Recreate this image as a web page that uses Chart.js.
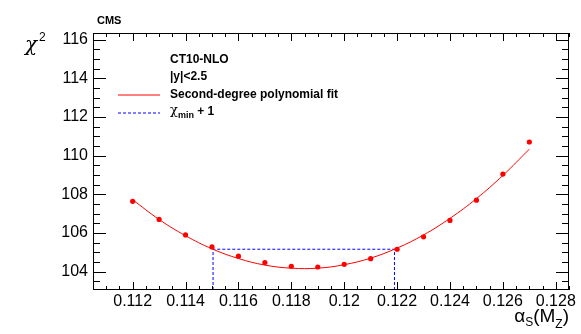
<!DOCTYPE html>
<html>
<head>
<meta charset="utf-8">
<script src="https://cdn.jsdelivr.net/npm/chart.js@4.4.1/dist/chart.umd.min.js"></script>
<style>
  body { margin: 0; background: #fff; }
  canvas { display: block; }
</style>
</head>
<body>
<canvas id="chi2Scan" width="581" height="334"></canvas>
<script>
  // chi2 scan values
  var alphaS = [0.112, 0.113, 0.114, 0.115, 0.116, 0.117, 0.118, 0.119,
                0.120, 0.121, 0.122, 0.123, 0.124, 0.125, 0.126, 0.127];
  var chi2Points = [107.64, 106.70, 105.90, 105.28, 104.80, 104.47, 104.28, 104.24,
                    104.38, 104.67, 105.16, 105.80, 106.65, 107.70, 109.05, 110.71];
  var fitCurve = [107.72, 106.70, 105.86, 105.18, 104.68, 104.34, 104.18, 104.18,
                  104.36, 104.70, 105.22, 105.90, 106.76, 107.78, 108.98, 110.34];
  var chi2MinPlusOne = 105.16;
  var alphaBand = [0.11504, 0.1219];

  var xTicks = [0.112, 0.114, 0.116, 0.118, 0.120, 0.122, 0.124, 0.126, 0.128];
  var xTickLabels = ['0.112', '0.114', '0.116', '0.118', '0.12', '0.122', '0.124', '0.126', '0.128'];
  var yTicks = [104, 106, 108, 110, 112, 114, 116];
  var xRange = [0.1105, 0.1285];
  var yRange = [103.05, 116.35];

  var FONT = '"Liberation Sans", Arial, Helvetica, sans-serif';
  var RED = '#ff0000';
  var BLUE = '#0000ff';

  function toXY(xs, ys) {
    return xs.map(function(x, i) { return { x: x, y: ys[i] }; });
  }

  // ROOT-style frame: box + inward ticks on all four sides, texts
  var rootFrame = {
    id: 'rootFrame',
    afterDraw: function(chart) {
      var c = chart.ctx;
      var a = chart.chartArea;
      var sx = chart.scales.x, sy = chart.scales.y;
      c.save();
      c.strokeStyle = '#000';
      c.lineWidth = 1;
      c.strokeRect(Math.round(a.left) + 0.5, Math.round(a.top) + 0.5,
                   Math.round(a.right - a.left) - 1, Math.round(a.bottom - a.top) - 1);

      // x ticks, major every 0.002, minor every 0.0005
      c.beginPath();
      for (var k = 0; ; k++) {
        var v = 0.110 + k * 0.0005;
        if (v > xRange[1] + 1e-9) break;
        if (v < xRange[0] - 1e-9) continue;
        var len = (k % 4) === 0 ? 8 : 4;
        var px = Math.round(sx.getPixelForValue(v)) + 0.5;
        c.moveTo(px, a.bottom); c.lineTo(px, a.bottom - len);
        c.moveTo(px, a.top); c.lineTo(px, a.top + len);
      }
      // y ticks, major every 2, minor every 0.5
      for (var j = 0; ; j++) {
        var w = 103 + j * 0.5;
        if (w > yRange[1] + 1e-9) break;
        if (w < yRange[0] - 1e-9) continue;
        var lenY = (j % 4) === 2 ? 13 : 7;
        var py = Math.round(sy.getPixelForValue(w)) + 0.5;
        c.moveTo(a.left, py); c.lineTo(a.left + lenY, py);
        c.moveTo(a.right, py); c.lineTo(a.right - lenY, py);
      }
      c.stroke();

      c.fillStyle = '#000';
      c.textBaseline = 'alphabetic';
      c.textAlign = 'left';

      // CMS label
      c.font = 'bold 11px ' + FONT;
      c.fillText('CMS', 97, 24);

      // y title
      c.font = 'italic 20px "DejaVu Serif", serif';
      c.fillText('\u03c7', 25, 51);
      c.font = '12px ' + FONT;
      c.fillText('2', 39, 41);

      // x title: alpha_S(M_Z), right aligned at the frame end
      var parts = [
        ['\u03b1', '19px ' + FONT, 0],
        ['S', '12px ' + FONT, 4],
        ['(M', '19px ' + FONT, 0],
        ['Z', '12px ' + FONT, 6],
        [')', '19px ' + FONT, 0]
      ];
      var total = 0;
      parts.forEach(function(p) { c.font = p[1]; total += c.measureText(p[0]).width; });
      var tx = a.right - total;
      parts.forEach(function(p) {
        c.font = p[1];
        c.fillText(p[0], tx, 322 + p[2]);
        tx += c.measureText(p[0]).width;
      });

      // legend
      c.font = 'bold 12px ' + FONT;
      c.textBaseline = 'middle';
      c.fillText('CT10-NLO', 170, 60);
      c.fillText('|y|<2.5', 170, 77);
      c.fillText('Second-degree polynomial fit', 170, 95);
      c.font = '13px "DejaVu Serif", serif';
      c.fillText('\u03c7', 170, 111);
      var cw = c.measureText('\u03c7').width;
      c.font = 'bold 9px ' + FONT;
      c.fillText('min', 170 + cw, 116);
      var mw = c.measureText('min').width;
      c.font = 'bold 12px ' + FONT;
      c.fillText(' + 1', 170 + cw + mw, 112);

      c.lineWidth = 1;
      c.setLineDash([]);
      c.strokeStyle = RED;
      c.beginPath(); c.moveTo(118, 95); c.lineTo(160, 95); c.stroke();
      c.strokeStyle = BLUE;
      c.setLineDash([3, 2]);
      c.beginPath(); c.moveTo(118, 113); c.lineTo(160, 113); c.stroke();
      c.restore();
    }
  };

  var chi2Chart = new Chart(document.getElementById('chi2Scan').getContext('2d'), {
    type: 'scatter',
    data: {
      datasets: [
        {
          label: 'chi2',
          data: toXY(alphaS, chi2Points),
          backgroundColor: RED,
          borderColor: RED,
          pointRadius: 2.6,
          pointHoverRadius: 2.6,
          borderWidth: 0,
          showLine: false,
          order: 0
        },
        {
          label: 'Second-degree polynomial fit',
          data: toXY(alphaS, fitCurve),
          borderColor: RED,
          borderWidth: 1,
          pointRadius: 0,
          showLine: true,
          tension: 0.4,
          order: 1
        },
        {
          label: 'chi2min + 1',
          data: [
            { x: alphaBand[0], y: yRange[0] },
            { x: alphaBand[0], y: chi2MinPlusOne },
            { x: alphaBand[1], y: chi2MinPlusOne },
            { x: alphaBand[1], y: yRange[0] }
          ],
          borderColor: BLUE,
          borderWidth: 1,
          borderDash: [3, 2],
          pointRadius: 0,
          showLine: true,
          tension: 0,
          order: 2
        }
      ]
    },
    options: {
      responsive: false,
      animation: false,
      devicePixelRatio: 1,
      layout: { padding: { left: 0, top: 33, right: 12, bottom: 0 } },
      plugins: {
        legend: { display: false },
        tooltip: { enabled: false },
        title: { display: false }
      },
      scales: {
        x: {
          type: 'linear',
          min: xRange[0],
          max: xRange[1],
          grid: { display: false, drawTicks: false },
          border: { display: false },
          afterBuildTicks: function(scale) {
            scale.ticks = xTicks.map(function(v) { return { value: v }; });
          },
          afterFit: function(scale) { scale.height = 44; },
          ticks: {
            padding: 2,
            color: '#000',
            font: { family: FONT, size: 16 },
            maxRotation: 0,
            autoSkip: false,
            callback: function(value, index) { return xTickLabels[index]; }
          }
        },
        y: {
          type: 'linear',
          min: yRange[0],
          max: yRange[1],
          grid: { display: false, drawTicks: false },
          border: { display: false },
          afterBuildTicks: function(scale) {
            scale.ticks = yTicks.map(function(v) { return { value: v }; });
          },
          afterFit: function(scale) { scale.width = 93; },
          ticks: {
            padding: 5,
            color: '#000',
            font: { family: FONT, size: 16 },
            callback: function(value) { return String(value); }
          }
        }
      }
    },
    plugins: [rootFrame]
  });
</script>
</body>
</html>
